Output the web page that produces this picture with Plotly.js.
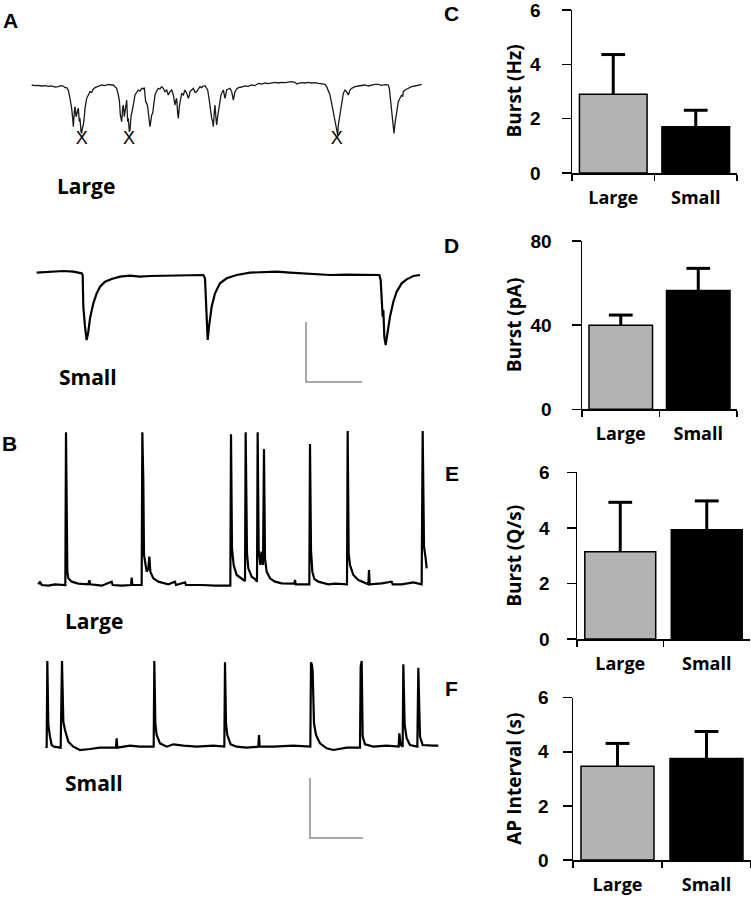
<!DOCTYPE html>
<html>
<head>
<meta charset="utf-8">
<script src="https://cdn.plot.ly/plotly-3.0.1.min.js"></script>
<style>html,body{margin:0;padding:0;background:#fff;}#plot{width:751px;height:900px;}</style>
</head>
<body>
<div id="plot"></div>
<script>
// ---------- DATA ----------
// Panel A, "Large" trace (time in samples, current in arbitrary units)
const tALarge = [20,30,40,50,60,70,80,90,100,108,
  115,120,125,130,135,138,140,143,145,148,
  150,153,155,158,160,163,165,168,170,172,
  175,178,180,185,190,195,200,205,210,220,
  230,240,250,258,265,270,275,280,283,286,
  290,293,295,298,300,303,305,308,310,313,
  315,318,320,323,325,328,330,335,340,345,
  350,355,358,360,362,365,368,372,375,378,
  380,383,385,388,390,395,400,405,410,415,
  420,425,430,435,440,445,450,453,455,458,
  460,463,465,468,470,475,480,485,490,493,
  495,500,505,510,515,520,525,530,535,540,
  545,548,552,555,558,560,563,565,568,570,
  573,575,578,580,583,585,588,590,593,595,
  598,600,603,605,610,615,620,625,628,630,
  635,640,650,660,670,680,690,700,710,720,
  730,740,750,760,770,780,790,800,810,815,
  820,830,840,850,860,870,880,890,900,905,
  910,915,920,925,928,930,933,935,938,940,
  945,948,950,955,960,965,970,973,975,980,
  990,1000,1010,1020,1030,1040,1050,1060,1070,1080,
  1090,1093,1095,1098,1100,1103,1105,1107,1110,1112,
  1115,1120,1125,1130,1133,1135,1140,1150,1160,1170,
  1180,1190];
const iALarge = [0,-2,-1,-3,-2,-4,-3,-6,-5,-2,
  -3,-8,-8,-15,-40,-55,-70,-100,-125,-80,
  -65,-95,-90,-75,-70,-110,-100,-140,-145,-130,
  -120,-95,-70,-40,-30,-20,-22,-12,-8,-5,
  0,-2,2,0,0,-5,-10,-30,-45,-90,
  -110,-70,-60,-95,-80,-55,-45,-110,-100,-140,
  -135,-95,-80,-70,-60,-40,-30,-22,-15,-18,
  -10,-12,-8,-30,-50,-55,-65,-100,-125,-105,
  -90,-85,-70,-45,-30,-18,-10,-12,-5,-10,
  -20,-15,-30,-20,-15,-30,-60,-45,-40,-85,
  -100,-65,-50,-35,-25,-30,-15,-25,-40,-30,
  -20,-15,-10,-22,-20,-12,-5,-8,-3,-2,
  -8,-15,-40,-70,-90,-100,-110,-125,-80,-60,
  -100,-120,-95,-80,-55,-40,-30,-25,-18,-15,
  -30,-40,-25,-15,-12,-10,-20,-45,-30,-20,
  -12,-8,-6,-3,-4,0,-2,5,3,6,
  4,7,8,6,8,7,9,10,8,3,
  5,7,6,8,6,7,5,4,2,-5,
  -15,-30,-55,-80,-95,-110,-125,-140,-150,-120,
  -90,-70,-50,-25,-15,-20,-30,-20,-15,-10,
  -5,-3,-2,0,-3,0,2,2,-1,1,
  0,-10,-30,-60,-80,-110,-130,-145,-115,-100,
  -75,-50,-40,-30,-35,-20,-15,-10,-5,-3,
  0,2];
// marked bursts (X) in panel A
const tBurstMarks = [170,312,935];
const iBurstMarks = [-162,-162,-162];

// Panel A, "Small" trace
const tASmall = [20,60,100,130,155,158,160,165,170,175, 180,190,200,210,225,245,270,300,330,360,
  400,450,490,520,525,528,533,537,545,555, 570,590,620,660,700,740,780,820,860,900,
  950,1000,1048,1052,1055,1058,1060,1063,1067,1072, 1080,1090,1100,1115,1130,1150,1170];
const iASmall = [2,4,7,5,0,-5,-100,-160,-200,-175, -135,-90,-60,-40,-25,-17,-10,-7,-10,-8,
  -7,-6,-7,-5,-15,-110,-200,-160,-100,-60, -30,-15,-5,2,3,5,2,0,-3,-5,
  -4,-4,-5,-20,-100,-130,-110,-190,-215,-180, -130,-85,-55,-30,-18,-8,-5];
const tScaleA = [828,828,996];
const iScaleA = [-146,-326,-326];

// Panel B, "Large" trace (membrane potential)
const tBLarge = [10,15,20,40,60,80,91,93,95,97, 100,110,130,160,163,166,200,230,233,260,
  288,290,292,320,322,325,327,330,335,340, 343,346,355,370,400,420,423,450,453,500,
  540,586,588,591,596,605,620,630,632,636, 640,650,660,666,668,671,676,680,684,687,
  690,695,705,720,740,778,780,782,800,823, 825,828,832,838,850,880,900,936,938,941,
  945,955,970,990,1000,1002,1004,1040,1070,1073, 1100,1135,1160,1163,1167,1172,1175];
const vBLarge = [0,8,-2,-4,0,-2,-2,456,43,38, 18,8,2,0,12,0,-4,8,-2,-4,
  -2,20,-2,-2,456,308,88,68,38,48, 83,38,18,8,0,8,-2,6,-2,-2,
  -4,-4,450,108,58,28,16,10,456,93, 48,23,16,8,456,103,58,98,58,406,
  78,38,18,8,3,2,13,0,0,0, 421,103,38,16,8,0,2,0,460,93,
  58,28,13,3,0,43,0,3,8,0, 0,6,0,460,113,78,48];

// Panel B, "Small" trace
const tBSmall = [18,20,22,25,30,35,42,62,66,70, 75,85,100,120,150,180,228,230,232,270,
  300,341,343,346,350,360,380,400,430,470, 520,553,555,558,562,572,590,620,655,657,
  659,700,760,811,813,816,818,822,828,840, 860,880,920,960,962,965,968,975,1000,1040,
  1076,1078,1082,1088,1090,1094,1100,1110,1132,1135, 1140,1148,1180,1195];
const vBSmall = [0,-3,257,65,30,5,0,-3,257,75, 50,15,0,-10,-7,-3,-3,25,-3,3,
  0,0,257,70,35,10,0,7,3,0, 3,0,253,70,35,7,0,-3,0,35,
  0,0,3,0,253,245,225,70,35,10, -5,-10,-3,-3,240,257,30,7,0,3,
  0,40,5,0,247,65,25,5,0,237, 30,5,3,3];
const tScaleB = [810,810,969];
const vScaleB = [-94,-274,-274];

// Bar charts
const groups = ['Large','Small'];
const burstHz = [2.9, 1.7];      const burstHzErr = [1.46, 0.61];
const burstPA = [40, 56.5];      const burstPAErr = [4.8, 10.5];
const burstQs = [3.14, 3.93];    const burstQsErr = [1.78, 1.04];
const apInterval = [3.47, 3.75]; const apIntervalErr = [0.84, 1.0];

// ---------- LAYOUT HELPERS ----------
const W = 751, H = 900;
const xd = (a,b) => [a/W, b/W];
const yd = (top,bot) => [1-bot/H, 1-top/H];
const px = v => v/W, py = v => 1 - v/H;

const data = [];
const layout = {
  width: W, height: H, margin:{l:0,r:0,t:0,b:0},
  paper_bgcolor:'#fff', plot_bgcolor:'rgba(0,0,0,0)',
  showlegend:false, font:{family:'Open Sans', color:'#000'},
  annotations: []
};

function hiddenAxes(n, xdom, ydom, xr, yr){
  layout['xaxis'+n] = {domain:xdom, range:xr, visible:false, fixedrange:true, anchor:'y'+n};
  layout['yaxis'+n] = {domain:ydom, range:yr, visible:false, fixedrange:true, anchor:'x'+n};
}

// Trace axes
hiddenAxes('', xd(25,430), yd(75,150), [0,1215], [-195,30]);
hiddenAxes(2, xd(30,430), yd(260,390), [0,1200], [-350,40]);
hiddenAxes(3, xd(35,435), yd(425,595), [0,1200], [-32,478]);
hiddenAxes(4, xd(40,440), yd(655,845), [0,1200], [-295,275]);

data.push({type:'scatter', mode:'lines', x:tALarge, y:iALarge, xaxis:'x', yaxis:'y',
  line:{color:'#1a1a1a', width:1.3}, hoverinfo:'skip'});
data.push({type:'scatter', mode:'text', x:tBurstMarks, y:iBurstMarks, xaxis:'x', yaxis:'y',
  text:tBurstMarks.map(()=> 'X'), textfont:{family:'Liberation Sans', size:18, color:'#000'}, hoverinfo:'skip'});
data.push({type:'scatter', mode:'lines', x:tASmall, y:iASmall, xaxis:'x2', yaxis:'y2',
  line:{color:'#000', width:2.2}, hoverinfo:'skip'});
data.push({type:'scatter', mode:'lines', x:tScaleA, y:iScaleA, xaxis:'x2', yaxis:'y2',
  line:{color:'#8c8c8c', width:1.5}, hoverinfo:'skip'});
data.push({type:'scatter', mode:'lines', x:tBLarge, y:vBLarge, xaxis:'x3', yaxis:'y3',
  line:{color:'#000', width:2.2}, hoverinfo:'skip'});
data.push({type:'scatter', mode:'lines', x:tBSmall, y:vBSmall, xaxis:'x4', yaxis:'y4',
  line:{color:'#000', width:2.2}, hoverinfo:'skip'});
data.push({type:'scatter', mode:'lines', x:tScaleB, y:vScaleB, xaxis:'x4', yaxis:'y4',
  line:{color:'#8c8c8c', width:1.5}, hoverinfo:'skip'});

// Bar charts
const tickFontY = {family:'Liberation Sans', size:19, color:'#000', weight:700};
const tickFontX = {family:'Open Sans', size:18, color:'#000', weight:700};
function barChart(n, xdom, ydom, vals, errs, yr, tv, standoff, title, titleX){
  layout['xaxis'+n] = {domain:xdom, anchor:'y'+n, type:'category', range:[-0.5,1.5],
    tickson:'boundaries', ticks:'outside', ticklen:6, tickwidth:1.5, tickcolor:'#000',
    showline:true, linecolor:'#000', linewidth:1.5, showgrid:false, zeroline:false,
    tickfont:tickFontX, fixedrange:true, ticklabelstandoff:8, ticklabeloverflow:'allow'};
  layout['yaxis'+n] = {domain:ydom, anchor:'x'+n, range:yr, tickvals:tv,
    ticks:'outside', ticklen:9, tickwidth:1.5, tickcolor:'#000',
    showline:true, linecolor:'#000', linewidth:1.5, showgrid:false, zeroline:false,
    tickfont:tickFontY, fixedrange:true, ticklabelstandoff:standoff, ticklabeloverflow:'allow'};
  data.push({type:'bar', x:groups, y:vals, width:0.82, xaxis:'x'+n, yaxis:'y'+n,
    marker:{color:['#b3b3b3','#000'], line:{color:'#000', width:1.5}}, hoverinfo:'skip'});
  const ex=[], ey=[];
  groups.forEach((g,i)=>{ ex.push(g,g,null); ey.push(vals[i], vals[i]+errs[i], null); });
  data.push({type:'scatter', mode:'lines', x:ex, y:ey, xaxis:'x'+n, yaxis:'y'+n,
    line:{color:'#000', width:3}, hoverinfo:'skip', cliponaxis:false});
  data.push({type:'scatter', mode:'markers', x:groups, y:vals.map((v,i)=>v+errs[i]), xaxis:'x'+n, yaxis:'y'+n,
    marker:{symbol:'line-ew-open', size:17, color:'#000', line:{color:'#000', width:3}}, hoverinfo:'skip', cliponaxis:false});
  const d = layout['yaxis'+n].domain;
  layout.annotations.push({text:title, xref:'paper', yref:'paper', x:titleX, y:(d[0]+d[1])/2,
    textangle:-90, showarrow:false, xanchor:'center', yanchor:'middle',
    font:{family:'Open Sans', size:19, color:'#000', weight:700}});
}
barChart(5, xd(572,737), yd(10,173), burstHz, burstHzErr, [0,6], [0,2,4,6], 17, 'Burst (Hz)', px(514));
barChart(6, xd(582,737), yd(241,409.3), burstPA, burstPAErr, [0,80], [0,40,80], 16, 'Burst (pA)', px(514));
barChart(7, xd(577,750), yd(472.3,639), burstQs, burstQsErr, [0,6], [0,2,4,6], 13, 'Burst (Q/s)', px(514));
barChart(8, xd(573,751), yd(697.7,860), apInterval, apIntervalErr, [0,6], [0,2,4,6], 10, 'AP Interval (s)', px(514));

// Text labels
function label(t, x, y, size, fam){
  layout.annotations.push({text:t, xref:'paper', yref:'paper', x:px(x), y:py(y), showarrow:false,
    xanchor:'center', yanchor:'middle', font:{family:fam||'Open Sans', size:size, color:'#000', weight:700}});
}
label('A', 10, 21, 21, 'Liberation Sans');
label('B', 9, 443, 21, 'Liberation Sans');
label('C', 452, 13, 21, 'Liberation Sans');
label('D', 452, 246, 21, 'Liberation Sans');
label('E', 452, 474, 21, 'Liberation Sans');
label('F', 452, 688, 21, 'Liberation Sans');
label('Large', 86, 186, 21);
label('Small', 88, 377, 21);
label('Large', 94, 621, 21);
label('Small', 94, 783, 21);

Plotly.newPlot('plot', data, layout, {staticPlot:true, displayModeBar:false});
</script>
</body>
</html>
